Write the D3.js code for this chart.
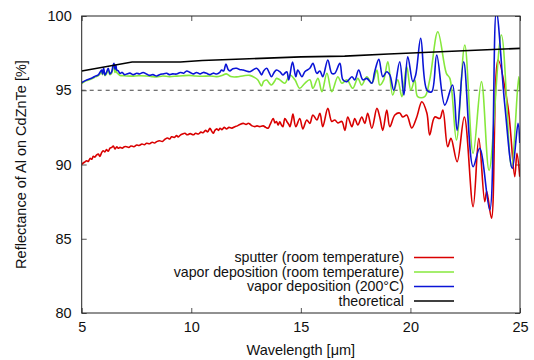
<!DOCTYPE html>
<html>
<head>
<meta charset="utf-8">
<script src="https://cdn.jsdelivr.net/npm/d3@7"></script>
<style>
  body { margin: 0; background: #fff; }
  text { font-family: "Liberation Sans", Arial, Helvetica, sans-serif; fill: #111; }
</style>
</head>
<body>
<div id="chart"></div>
<script>
// tick values
var xTicks = [5, 10, 15, 20, 25];
var yTicks = [80, 85, 90, 95, 100];
var refLevel = 95;

var seriesNames = ["sputter (room temperature)", "vapor deposition (room temperature)", "vapor deposition (200°C)", "theoretical"];
var seriesColors = ["#d90000", "#86e83c", "#0a14d6", "#000000"];

// [wavelength um, reflectance %]
var sputter = [
  [5.00,90.01],[5.12,90.15],[5.23,90.25],[5.30,90.2],[5.38,90.41],[5.46,90.35],[5.53,90.55],[5.60,90.5],[5.68,90.64],[5.76,90.7],
  [5.83,90.55],[5.91,90.8],[5.98,90.93],[6.06,90.85],[6.13,91.0],[6.21,90.9],[6.29,91.1],[6.37,91.15],[6.44,91.25],[6.52,91.05],
  [6.60,91.2],[6.67,91.09],[6.75,91.15],[6.85,91.1],[6.95,91.2],[7.05,91.2],[7.15,91.15],[7.25,91.25],[7.38,91.2],[7.51,91.31],
  [7.62,91.28],[7.75,91.38],[7.86,91.33],[7.96,91.43],[8.10,91.4],[8.22,91.5],[8.32,91.45],[8.42,91.54],[8.55,91.6],[8.68,91.55],
  [8.80,91.7],[8.92,91.78],[9.02,91.72],[9.10,91.87],[9.22,91.82],[9.33,91.95],[9.40,91.85],[9.50,91.98],[9.60,92.05],[9.71,92.1],
  [9.82,92.0],[9.95,92.08],[10.09,92.0],[10.20,92.1],[10.33,92.05],[10.44,92.18],[10.54,92.14],[10.65,92.3],[10.75,92.2],[10.85,92.44],
  [10.93,92.25],[11.00,92.1],[11.08,92.3],[11.16,92.4],[11.24,92.3],[11.31,92.44],[11.40,92.35],[11.50,92.5],[11.61,92.4],[11.72,92.5],
  [11.85,92.45],[11.99,92.55],[12.10,92.6],[12.22,92.7],[12.37,92.77],[12.50,92.7],[12.60,92.78],[12.67,92.73],[12.78,92.6],[12.90,92.55],
  [13.00,92.6],[13.12,92.55],[13.28,92.6],[13.40,92.5],[13.51,92.44],[13.60,92.7],[13.74,93.1],[13.82,92.8],[13.89,92.9],[13.96,92.66],
  [14.04,92.88],[14.10,92.7],[14.18,92.55],[14.27,93.1],[14.36,92.9],[14.45,92.7],[14.50,92.55],[14.58,93.0],[14.64,93.4],[14.77,92.55],
  [14.95,93.1],[15.09,92.4],[15.27,93.0],[15.41,92.77],[15.55,93.33],[15.73,93.0],[15.87,93.45],[16.00,92.55],[16.23,93.78],[16.41,92.9],
  [16.55,93.0],[16.69,92.8],[16.87,92.9],[17.01,92.3],[17.14,93.2],[17.33,92.55],[17.46,93.1],[17.60,92.66],[17.78,93.2],[17.92,92.77],
  [18.05,93.45],[18.24,92.44],[18.47,93.78],[18.60,93.2],[18.74,92.3],[18.92,93.67],[19.06,92.55],[19.29,93.33],[19.51,93.47],[19.65,93.2],
  [19.83,93.33],[20.06,92.46],[20.29,93.2],[20.52,94.23],[20.75,93.47],[20.88,91.99],[21.11,93.2],[21.34,93.1],[21.48,93.67],[21.70,91.2],
  [21.85,91.76],[22.13,90.19],[22.46,93.2],[22.86,87.16],[23.12,91.76],[23.39,87.5],[23.48,88.2],[23.70,86.38],[24.00,97.04],[24.45,93.9],
  [24.76,89.18],[24.86,90.75],[24.99,89.18]
];

var vaporRoom = [
  [5.00,95.45],[5.10,95.55],[5.23,95.65],[5.35,95.7],[5.53,95.82],[5.62,95.9],[5.76,95.98],[5.83,96.1],[5.91,96.25],[5.95,96.05],
  [6.00,96.35],[6.06,95.98],[6.13,96.1],[6.21,96.35],[6.29,96.05],[6.37,96.15],[6.42,96.45],[6.47,96.6],[6.52,96.2],[6.56,96.45],
  [6.60,96.2],[6.67,96.1],[6.75,96.0],[6.90,95.98],[7.05,95.96],[7.30,95.95],[7.60,95.98],[7.96,95.96],[8.20,95.92],[8.42,95.9],
  [8.70,95.96],[9.00,95.92],[9.33,95.95],[9.60,95.98],[9.90,96.0],[10.20,95.96],[10.50,95.94],[10.85,95.96],[11.16,95.92],[11.40,96.0],
  [11.60,96.1],[11.80,95.92],[12.07,95.9],[12.40,95.98],[12.67,96.0],[12.90,95.85],[13.04,95.69],[13.21,95.29],[13.30,95.6],[13.44,95.69],
  [13.55,95.5],[13.66,95.35],[13.80,95.6],[13.89,95.8],[14.04,95.7],[14.27,95.47],[14.50,96.03],[14.73,95.7],[14.95,95.13],[15.18,95.47],
  [15.41,95.7],[15.55,95.13],[15.78,95.8],[15.96,94.9],[16.19,96.14],[16.41,94.9],[16.69,95.91],[16.87,95.47],[17.10,95.7],[17.37,95.13],
  [17.60,95.8],[17.78,95.35],[18.01,95.91],[18.24,95.47],[18.47,96.36],[18.60,95.35],[18.78,95.7],[18.97,96.92],[19.19,94.68],[19.42,95.7],
  [19.61,94.57],[19.83,96.59],[20.02,95.0],[20.20,95.7],[20.33,94.57],[20.65,94.57],[20.88,95.7],[21.25,98.94],[21.64,96.14],[21.80,95.8],
  [22.10,91.65],[22.48,98.05],[22.86,90.75],[23.24,95.58],[23.59,89.6],[24.15,98.72],[24.61,89.85],[24.94,95.9],[24.99,95.0]
];

var vapor200 = [
  [5.00,95.51],[5.10,95.6],[5.23,95.69],[5.35,95.75],[5.53,95.87],[5.62,95.95],[5.76,96.03],[5.83,96.2],[5.91,96.36],[5.95,96.1],
  [6.00,96.5],[6.06,96.03],[6.13,96.2],[6.21,96.48],[6.29,96.1],[6.37,96.25],[6.42,96.6],[6.47,96.81],[6.52,96.4],[6.56,96.7],
  [6.60,96.36],[6.67,96.3],[6.75,96.14],[6.85,96.2],[6.95,96.05],[7.05,96.09],[7.20,96.15],[7.35,96.05],[7.51,96.14],[7.65,96.1],
  [7.80,96.2],[7.96,96.09],[8.10,96.0],[8.25,96.05],[8.42,95.96],[8.55,96.05],[8.70,96.1],[8.88,96.14],[9.00,96.05],[9.15,96.1],
  [9.33,96.09],[9.50,96.2],[9.65,96.15],[9.79,96.3],[9.95,96.2],[10.10,96.1],[10.24,96.2],[10.40,96.1],[10.55,96.2],[10.70,96.14],
  [10.85,96.05],[11.00,96.15],[11.16,96.09],[11.30,96.2],[11.38,96.36],[11.48,96.3],[11.58,96.77],[11.68,96.4],[11.76,96.3],[11.90,96.45],
  [12.07,96.48],[12.20,96.4],[12.37,96.36],[12.50,96.3],[12.67,96.25],[12.80,96.35],[12.98,96.48],[13.10,96.3],[13.21,96.03],[13.30,96.3],
  [13.44,96.48],[13.55,96.2],[13.66,95.91],[13.78,96.2],[13.89,96.36],[14.04,96.25],[14.18,96.03],[14.27,96.15],[14.36,96.25],[14.45,95.7],
  [14.62,96.9],[14.77,95.91],[14.86,96.36],[15.05,95.91],[15.18,96.25],[15.41,96.48],[15.55,96.81],[15.73,96.14],[15.87,96.3],[16.00,95.91],
  [16.23,97.04],[16.41,96.14],[16.55,96.14],[16.78,96.81],[16.92,95.7],[17.10,95.58],[17.33,95.91],[17.46,95.7],[17.64,96.36],[17.83,95.7],
  [18.01,95.8],[18.24,95.47],[18.37,96.25],[18.56,97.08],[18.74,95.91],[18.92,96.25],[19.06,96.03],[19.24,95.0],[19.51,96.92],[19.70,94.68],
  [19.88,97.26],[20.11,95.58],[20.24,96.03],[20.47,98.5],[20.75,95.02],[20.97,94.9],[21.20,97.37],[21.57,94.0],[21.92,95.35],[22.13,92.3],
  [22.43,96.92],[22.86,89.85],[23.16,91.09],[23.62,86.94],[23.92,100.3],[24.30,94.1],[24.65,89.74],[24.91,92.77],[24.99,91.45]
];

var theoretical = [
  [5.0,96.3],[7.3,96.9],[9.5,96.9],[10.5,97.0],[15.0,97.25],[17.0,97.3],[19.0,97.44],[25.0,97.82]
];

var width = 534, height = 360;
var margin = { top: 16, right: 14, bottom: 47, left: 81.7 };

var svg = d3.select("#chart").append("svg")
    .attr("width", width)
    .attr("height", height);

var x = d3.scaleLinear().domain([5, 25]).range([margin.left, width - margin.right]);
var y = d3.scaleLinear().domain([80, 100]).range([height - margin.bottom, margin.top]);

svg.append("clipPath").attr("id", "plot-clip")
  .append("rect")
    .attr("x", x(5)).attr("y", y(100))
    .attr("width", x(25) - x(5)).attr("height", y(80) - y(100));

// reference line at 95 %
svg.append("line")
    .attr("x1", x(5)).attr("x2", x(25))
    .attr("y1", y(refLevel)).attr("y2", y(refLevel))
    .attr("stroke", "#444").attr("stroke-width", 1)
    .attr("stroke-dasharray", "4,4");

// inward ticks on all four sides (gnuplot mirror style)
var tickLen = 5;
var axes = [
  d3.axisBottom(x).tickValues(xTicks).tickSizeInner(-tickLen).tickSizeOuter(0).tickPadding(9),
  d3.axisTop(x).tickValues(xTicks).tickSizeInner(-tickLen).tickSizeOuter(0).tickFormat(""),
  d3.axisLeft(y).tickValues(yTicks).tickSizeInner(-tickLen).tickSizeOuter(0).tickPadding(10),
  d3.axisRight(y).tickValues(yTicks).tickSizeInner(-tickLen).tickSizeOuter(0).tickFormat("")
];
var axisPos = ["translate(0," + y(80) + ")", "translate(0," + y(100) + ")",
               "translate(" + x(5) + ",0)", "translate(" + x(25) + ",0)"];
axes.forEach(function (ax, i) {
  var g = svg.append("g").attr("transform", axisPos[i]).call(ax);
  g.select(".domain").remove();
  g.selectAll(".tick line").attr("stroke", "#555");
  g.selectAll(".tick text").attr("font-size", 14.5).attr("fill", "#111")
    .style("font-family", '"Liberation Sans", Arial, sans-serif');
});

var line = d3.line()
    .x(function (d) { return x(d[0]); })
    .y(function (d) { return y(d[1]); })
    .curve(d3.curveCatmullRom.alpha(0.5));

var lineStraight = d3.line()
    .x(function (d) { return x(d[0]); })
    .y(function (d) { return y(d[1]); });

var plot = svg.append("g").attr("clip-path", "url(#plot-clip)");
var allSeries = [sputter, vaporRoom, vapor200];
allSeries.forEach(function (s, i) {
  plot.append("path")
      .datum(s)
      .attr("fill", "none")
      .attr("stroke", seriesColors[i])
      .attr("stroke-width", 1.6)
      .attr("stroke-linejoin", "round")
      .attr("d", line);
});
plot.append("path")
    .datum(theoretical)
    .attr("fill", "none")
    .attr("stroke", seriesColors[3])
    .attr("stroke-width", 1.6)
    .attr("d", lineStraight);

// frame
svg.append("rect")
    .attr("x", x(5)).attr("y", y(100))
    .attr("width", x(25) - x(5)).attr("height", y(80) - y(100))
    .attr("fill", "none").attr("stroke", "#222").attr("stroke-width", 1);

// legend
var legend = svg.append("g");
seriesNames.forEach(function (name, i) {
  var ly = 257.5 + i * 14.5;
  legend.append("text")
      .attr("x", 404).attr("y", ly)
      .attr("dy", "0.35em")
      .attr("text-anchor", "end")
      .attr("font-size", 14.2)
      .text(name);
  legend.append("line")
      .attr("x1", 414).attr("x2", 454)
      .attr("y1", ly).attr("y2", ly)
      .attr("stroke", seriesColors[i]).attr("stroke-width", 1.6);
});

// axis titles
svg.append("text")
    .attr("x", (x(5) + x(25)) / 2).attr("y", 355)
    .attr("text-anchor", "middle")
    .attr("font-size", 14.5)
    .text("Wavelength [\u03bcm]");

svg.append("text")
    .attr("transform", "translate(26," + (y(80) + y(100)) / 2 + ") rotate(-90)")
    .attr("text-anchor", "middle")
    .attr("font-size", 14.5)
    .text("Reflectance of Al on CdZnTe [%]");
</script>
</body>
</html>
